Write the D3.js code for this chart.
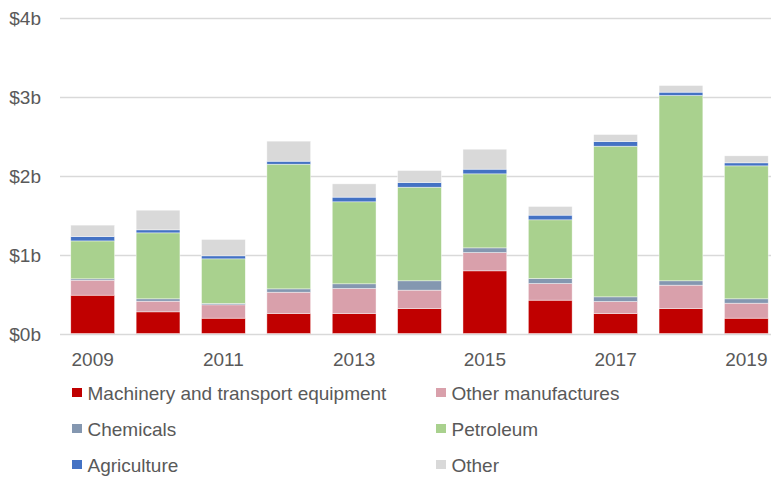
<!DOCTYPE html>
<html>
<head>
<meta charset="utf-8">
<script src="https://cdn.jsdelivr.net/npm/d3@7"></script>
<style>
	body { margin: 0; background: #fff; }
	svg { display: block; font-family: "Liberation Sans", Arial, sans-serif; }
	.axis text { fill: #595959; font-size: 19px; }
	.legend text { fill: #595959; font-size: 19px; }
</style>
</head>
<body>
<svg></svg>
<script>
var years = ["2009", "2010", "2011", "2012", "2013", "2014", "2015", "2016", "2017", "2018", "2019"];
var categories = ["Machinery and transport equipment", "Other manufactures", "Chemicals", "Petroleum", "Agriculture", "Other"];
var colors = ["#C00000", "#D9A0AB", "#8497B0", "#A9D18E", "#4472C4", "#D9D9D9"];

// values in $ billions
var machinery = [0.485, 0.274, 0.194, 0.253, 0.253, 0.316, 0.793, 0.422, 0.253, 0.316, 0.194];
var otherManufactures = [0.19, 0.135, 0.169, 0.27, 0.317, 0.233, 0.232, 0.211, 0.152, 0.296, 0.19];
var chemicals = [0.017, 0.03, 0.017, 0.042, 0.059, 0.118, 0.059, 0.063, 0.059, 0.055, 0.055];
var petroleum = [0.48, 0.835, 0.565, 1.578, 1.038, 1.185, 0.937, 0.743, 1.907, 2.346, 1.683];
var agriculture = [0.055, 0.038, 0.038, 0.038, 0.059, 0.059, 0.059, 0.059, 0.059, 0.042, 0.038];
var other = [0.145, 0.249, 0.207, 0.254, 0.168, 0.152, 0.253, 0.11, 0.089, 0.084, 0.089];

var yTicks = [0, 1, 2, 3, 4];
var xTickLabels = ["2009", "2011", "2013", "2015", "2017", "2019"];

var series = [machinery, otherManufactures, chemicals, petroleum, agriculture, other];

var table = years.map(function(y, i) {
	var row = {year: y};
	categories.forEach(function(c, j) { row[c] = series[j][i]; });
	return row;
});

var W = 771, H = 478;
var svg = d3.select("svg").attr("width", W).attr("height", H);

var x = d3.scaleBand().domain(years).range([60, 779]).paddingInner(0.33).paddingOuter(0.165);
var y = d3.scaleLinear().domain([0, 4]).range([333.5, 17.5]);

var stack = d3.stack().keys(categories)(table);

//Grid Lines
svg.append("g").attr("class", "grid")
	.selectAll("line").data(yTicks).enter().append("line")
	.attr("x1", 60).attr("x2", W)
	.attr("y1", function(d) { return Math.round(y(d)) + 0.5; })
	.attr("y2", function(d) { return Math.round(y(d)) + 0.5; })
	.attr("stroke", "#D9D9D9").attr("stroke-width", 1.3);

//Bars
var layer = svg.selectAll(".layer").data(stack).enter().append("g")
	.attr("class", "layer").attr("fill", function(d, i) { return colors[i]; });
layer.selectAll("rect").data(function(d) { return d; }).enter().append("rect")
	.attr("x", function(d) { return x(d.data.year); })
	.attr("width", x.bandwidth())
	.attr("y", function(d) { return y(d[1]); })
	.attr("height", function(d) { return y(d[0]) - y(d[1]); })
	.attr("stroke", "#fff").attr("stroke-width", 0.6).attr("stroke-opacity", 0.7);

//Axis
var yAxis = d3.axisLeft(y).tickValues(yTicks).tickSize(0).tickPadding(0)
	.tickFormat(function(d) { return "$" + d + "b"; });
svg.append("g").attr("class", "axis").attr("transform", "translate(41,0)").call(yAxis)
	.call(function(g) { g.select(".domain").remove(); })
	.selectAll("text").attr("dy", "0.35em");

var xAxis = d3.axisBottom(x).tickValues(xTickLabels).tickSize(0).tickPadding(0);
svg.append("g").attr("class", "axis").attr("transform", "translate(0,352)").call(xAxis)
	.call(function(g) { g.select(".domain").remove(); })
	.selectAll("text").attr("dy", "0.71em");

//Legend
var legend = svg.append("g").attr("class", "legend")
	.selectAll("g").data(categories).enter().append("g")
	.attr("transform", function(d, i) { return "translate(" + (i % 2 ? 436 : 72) + "," + (393 + Math.floor(i / 2) * 36) + ")"; });
legend.append("rect").attr("x", 0).attr("y", -5).attr("width", 10).attr("height", 9)
	.attr("fill", function(d, i) { return colors[i]; });
legend.append("text").attr("x", 15.5).attr("dy", "0.35em").text(function(d) { return d; });
</script>
</body>
</html>
